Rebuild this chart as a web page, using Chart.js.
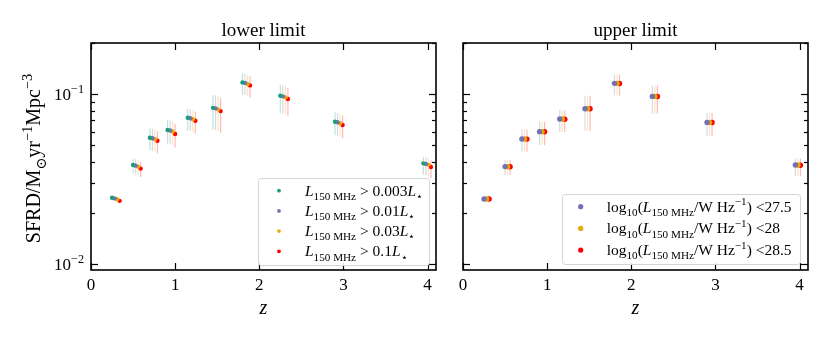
<!DOCTYPE html>
<html>
<head>
<meta charset="utf-8">
<script src="https://cdn.jsdelivr.net/npm/chart.js@4.4.1/dist/chart.umd.min.js"></script>
<style>
  body { margin: 0; background: #fff; }
  #wrap { position: relative; width: 830px; height: 340px; }
  #boxLeft { position: absolute; left: 0; top: 0; }
  #boxRight { position: absolute; left: 445px; top: 0; }
</style>
</head>
<body>
<div id="wrap">
  <div id="boxLeft"><canvas id="chartLeft" width="445" height="340"></canvas></div>
  <div id="boxRight"><canvas id="chartRight" width="385" height="340"></canvas></div>
</div>
<script>
// redshift bins (centre of first series)
var zBins = [0.25, 0.50, 0.70, 0.91, 1.15, 1.45, 1.80, 2.25, 2.90, 3.95];

// lower limit panel, SFRD in Msun/yr/Mpc^3
var sfrdLow0003 = [0.0245, 0.0382, 0.0553, 0.0614, 0.0726, 0.0830, 0.1172, 0.0977, 0.0687, 0.0391];
var sfrdLow001  = [0.0243, 0.0379, 0.0549, 0.0610, 0.0721, 0.0824, 0.1164, 0.0970, 0.0682, 0.0388];
var sfrdLow003  = [0.0240, 0.0374, 0.0542, 0.0602, 0.0711, 0.0813, 0.1148, 0.0957, 0.0673, 0.0383];
var sfrdLow01   = [0.0235, 0.0364, 0.0531, 0.0582, 0.0697, 0.0794, 0.1125, 0.0935, 0.0658, 0.0372];

// upper limit panel
var sfrdUp275 = [0.0241, 0.0374, 0.0544, 0.0601, 0.0713, 0.0820, 0.1157, 0.0969, 0.0681, 0.0382];
var sfrdUp28  = [0.0241, 0.0373, 0.0544, 0.0601, 0.0713, 0.0820, 0.1156, 0.0969, 0.0680, 0.0382];
var sfrdUp285 = [0.0241, 0.0373, 0.0543, 0.0600, 0.0712, 0.0819, 0.1155, 0.0968, 0.0680, 0.0381];

// error bars in dex (up / down)
var errUpDex   = [0.009, 0.038, 0.056, 0.059, 0.053, 0.076, 0.053, 0.065, 0.056, 0.039];
var errDownDex = [0.009, 0.049, 0.074, 0.079, 0.076, 0.129, 0.071, 0.100, 0.079, 0.065];

var xTicks = [0, 1, 2, 3, 4];
var yTicks = [0.01, 0.1];
var yTickExp = ['\u22122', '\u22121'];
var yMinorTicks = [0.02, 0.03, 0.04, 0.05, 0.06, 0.07, 0.08, 0.09, 0.2];

var green = '#1b9e77', purple = '#7570b3', yellow = '#e6ab02', red = '#ff0000';
var SERIF = '"Liberation Serif", "DejaVu Serif", serif';

Chart.defaults.font.family = SERIF;
Chart.defaults.color = '#000';

function alpha(hex, a) {
    var n = parseInt(hex.slice(1), 16);
    return 'rgba(' + (n >> 16) + ',' + ((n >> 8) & 255) + ',' + (n & 255) + ',' + a + ')';
}

function makeSet(label, vals, color, dz, r) {
    return {
        label: label,
        data: zBins.map(function(z, i){ return {x: z + dz, y: vals[i]}; }),
        backgroundColor: color,
        borderWidth: 0,
        pointRadius: r,
        pointHoverRadius: r
    };
}

// text with italic / sub / sup pieces
function richFont(p, size) {
    var small = p.s === 'sub' || p.s === 'sup';
    return (p.i ? 'italic ' : '') + (small ? size * 0.72 : size) + 'px ' + SERIF;
}
function richWidth(ctx, parts, size) {
    var w = 0;
    parts.forEach(function(p){ ctx.font = richFont(p, size); w += ctx.measureText(p.t).width; });
    return w;
}
function drawRich(ctx, parts, x, y, size) {
    parts.forEach(function(p){
        ctx.font = richFont(p, size);
        var dy = p.s === 'sub' ? size * 0.28 : (p.s === 'sup' ? -size * 0.42 : 0);
        ctx.fillText(p.t, x, y + dy);
        x += ctx.measureText(p.t).width;
    });
}

var errorBars = {
    id: 'errorBars',
    beforeDatasetsDraw: function(chart) {
        var ctx = chart.ctx, ys = chart.scales.y, a = chart.chartArea;
        ctx.save();
        ctx.beginPath();
        ctx.rect(a.left, a.top, a.width, a.height);
        ctx.clip();
        ctx.lineWidth = 1.2;
        chart.data.datasets.forEach(function(ds, k){
            var meta = chart.getDatasetMeta(k);
            ctx.strokeStyle = alpha(ds.backgroundColor, 0.28);
            ds.data.forEach(function(p, i){
                var px = meta.data[i].x;
                ctx.beginPath();
                ctx.moveTo(px, ys.getPixelForValue(p.y * Math.pow(10, errUpDex[i])));
                ctx.lineTo(px, ys.getPixelForValue(p.y / Math.pow(10, errDownDex[i])));
                ctx.stroke();
            });
        });
        ctx.restore();
    }
};

var frameTicks = {
    id: 'frameTicks',
    afterDraw: function(chart) {
        var o = chart.options.plugins.frameTicks;
        var ctx = chart.ctx, a = chart.chartArea;
        var xs = chart.scales.x, ys = chart.scales.y;
        function seg(x1, y1, x2, y2) { ctx.beginPath(); ctx.moveTo(x1, y1); ctx.lineTo(x2, y2); ctx.stroke(); }
        ctx.save();
        ctx.strokeStyle = '#000';
        ctx.lineWidth = 1.2;
        xTicks.forEach(function(v){
            var px = Math.round(xs.getPixelForValue(v)) + 0.5;
            seg(px, a.bottom, px, a.bottom - 7);
            seg(px, a.top, px, a.top + 7);
        });
        yTicks.forEach(function(v){
            var py = Math.round(ys.getPixelForValue(v)) + 0.5;
            seg(a.left, py, a.left + 7, py);
            seg(a.right, py, a.right - 7, py);
        });
        yMinorTicks.forEach(function(v){
            var py = Math.round(ys.getPixelForValue(v)) + 0.5;
            seg(a.left, py, a.left + 4, py);
            seg(a.right, py, a.right - 4, py);
        });
        ctx.lineWidth = 1.6;
        ctx.strokeRect(a.left, a.top, a.width, a.height);

        ctx.fillStyle = '#000';
        ctx.textBaseline = 'alphabetic';
        ctx.textAlign = 'center';
        ctx.font = '19px ' + SERIF;
        ctx.fillText(o.title, (a.left + a.right) / 2, a.top - 7);

        if (o.yLabels) {
            ctx.textAlign = 'left';
            yTicks.forEach(function(v, i){
                var parts = [{t: '10'}, {t: yTickExp[i], s: 'sup'}];
                var w = richWidth(ctx, parts, 17);
                drawRich(ctx, parts, a.left - 7 - w, ys.getPixelForValue(v) + 6, 17);
            });
            var yl = [{t: 'SFRD/M'}, {t: '\u2299', s: 'sub'}, {t: 'yr'}, {t: '\u22121', s: 'sup'},
                      {t: 'Mpc'}, {t: '\u22123', s: 'sup'}];
            var wl = richWidth(ctx, yl, 20);
            ctx.translate(40, (a.top + a.bottom) / 2 + 2);
            ctx.rotate(-Math.PI / 2);
            drawRich(ctx, yl, -wl / 2, 0, 20);
        }
        ctx.restore();
    }
};

var richLegend = {
    id: 'richLegend',
    afterDraw: function(chart) {
        var o = chart.options.plugins.richLegend;
        var ctx = chart.ctx, a = chart.chartArea;
        var x0 = a.right - o.gapX - o.w, y0 = a.bottom - o.gapY - o.h;
        ctx.save();
        ctx.beginPath();
        ctx.roundRect(x0 + 0.5, y0 + 0.5, o.w, o.h, 3);
        ctx.fillStyle = 'rgba(255,255,255,0.85)';
        ctx.fill();
        ctx.strokeStyle = '#d4d4d4';
        ctx.lineWidth = 1;
        ctx.stroke();
        ctx.textAlign = 'left';
        ctx.textBaseline = 'alphabetic';
        chart.data.datasets.forEach(function(ds, k){
            var cy = y0 + o.first + k * o.step;
            ctx.fillStyle = ds.backgroundColor;
            ctx.beginPath();
            ctx.arc(x0 + o.markX, cy, o.r, 0, Math.PI * 2);
            ctx.fill();
            ctx.fillStyle = '#000';
            drawRich(ctx, o.labels[k], x0 + o.textX, cy + 5, o.size);
        });
        ctx.restore();
    }
};

function lowLabel(v) {
    return [{t: 'L', i: true}, {t: '150 MHz', s: 'sub'}, {t: ' > ' + v}, {t: 'L', i: true}, {t: '\u22C6', s: 'sub'}];
}
function upLabel(v) {
    return [{t: 'log'}, {t: '10', s: 'sub'}, {t: '('}, {t: 'L', i: true}, {t: '150 MHz', s: 'sub'},
            {t: '/W Hz'}, {t: '\u22121', s: 'sup'}, {t: ') <' + v}];
}

function xScale() {
    return {
        type: 'linear',
        min: 0,
        max: 4.1,
        afterBuildTicks: function(s){ s.ticks = xTicks.map(function(v){ return {value: v}; }); },
        afterFit: function(s){ s.height = 70; },
        grid: { display: false, drawTicks: false },
        border: { display: false },
        ticks: { font: { size: 17 }, padding: 5, color: '#000' },
        title: { display: true, text: 'z', font: { size: 20, style: 'italic' }, padding: { top: 0, bottom: 19 }, color: '#000' }
    };
}

new Chart(document.getElementById('chartLeft'), {
    type: 'scatter',
    data: {
        datasets: [
            makeSet('0.003', sfrdLow0003, green, 0, 2.2),
            makeSet('0.01', sfrdLow001, purple, 0.03, 2.2),
            makeSet('0.03', sfrdLow003, yellow, 0.06, 2.2),
            makeSet('0.1', sfrdLow01, red, 0.09, 2.2)
        ]
    },
    options: {
        responsive: false,
        animation: false,
        layout: { padding: { top: 43, right: 9, left: 0, bottom: 0 } },
        scales: {
            x: xScale(),
            y: {
                type: 'logarithmic',
                min: 0.0092,
                max: 0.2,
                afterBuildTicks: function(s){ s.ticks = yTicks.map(function(v){ return {value: v}; }); },
                afterFit: function(s){ s.width = 91; },
                grid: { display: false, drawTicks: false },
                border: { display: false },
                ticks: { display: false }
            }
        },
        plugins: {
            legend: { display: false },
            tooltip: { enabled: false },
            frameTicks: { title: 'lower limit', yLabels: true },
            richLegend: {
                w: 171, h: 87, gapX: 7, gapY: 5, first: 12.7, step: 20.2, markX: 21, textX: 47, r: 1.9, size: 15.5,
                labels: [lowLabel('0.003'), lowLabel('0.01'), lowLabel('0.03'), lowLabel('0.1')]
            }
        }
    },
    plugins: [errorBars, frameTicks, richLegend]
});

new Chart(document.getElementById('chartRight'), {
    type: 'scatter',
    data: {
        datasets: [
            makeSet('27.5', sfrdUp275, purple, 0, 2.7),
            makeSet('28', sfrdUp28, yellow, 0.03, 2.7),
            makeSet('28.5', sfrdUp285, red, 0.06, 2.7)
        ]
    },
    options: {
        responsive: false,
        animation: false,
        layout: { padding: { top: 43, right: 22, left: 18, bottom: 0 } },
        scales: {
            x: xScale(),
            y: { type: 'logarithmic', min: 0.0092, max: 0.2, display: false }
        },
        plugins: {
            legend: { display: false },
            tooltip: { enabled: false },
            frameTicks: { title: 'upper limit', yLabels: false },
            richLegend: {
                w: 238, h: 70, gapX: 8, gapY: 6, first: 12.7, step: 21.7, markX: 18.7, textX: 44.7, r: 2.6, size: 15.5,
                labels: [upLabel('27.5'), upLabel('28'), upLabel('28.5')]
            }
        }
    },
    plugins: [errorBars, frameTicks, richLegend]
});
</script>
</body>
</html>
